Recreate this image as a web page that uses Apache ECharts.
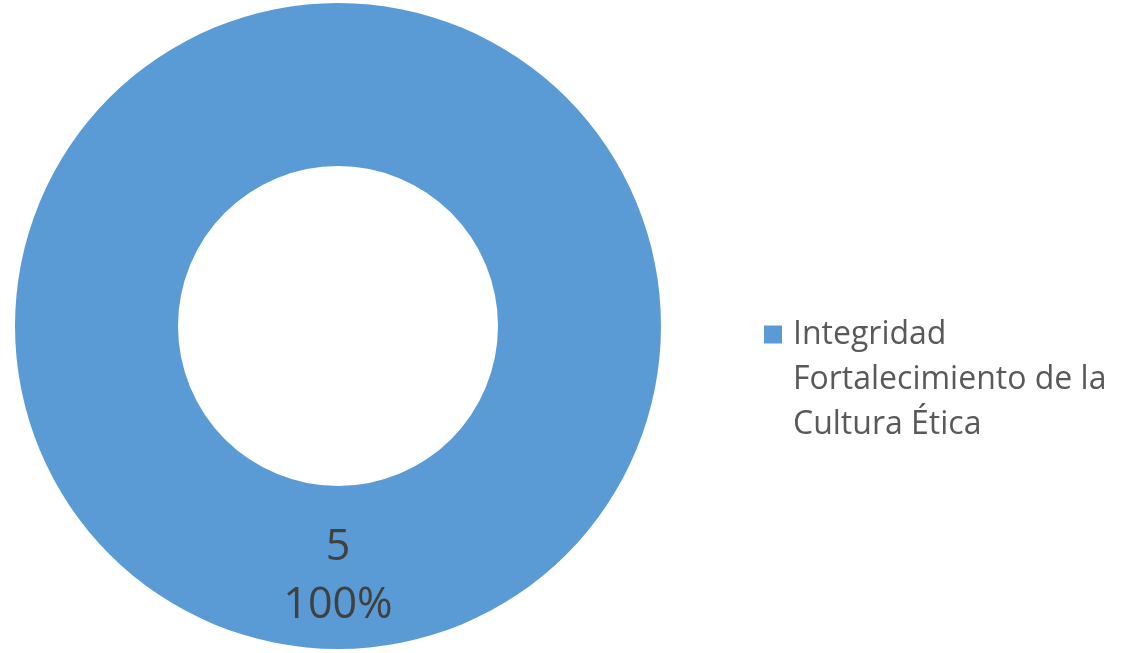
<!DOCTYPE html>
<html>
<head>
<meta charset="utf-8">
<script src="https://cdn.jsdelivr.net/npm/echarts@6/dist/echarts.min.js"></script>
<style>
html,body{margin:0;padding:0;background:#fff;}
#chart{width:1125px;height:653px;}
</style>
</head>
<body>
<div id="chart"></div>
<script>
const categories = ['Integridad Fortalecimiento de la Cultura Ética'];
const values = [5];
const legendLines = ['Integridad', 'Fortalecimiento de la', 'Cultura Ética'];
const colors = ['#5B9BD5'];

const chart = echarts.init(document.getElementById('chart'));
chart.setOption({
  animation: false,
  backgroundColor: '#ffffff',
  color: colors,
  legend: {
    orient: 'vertical',
    left: 764,
    top: 222,
    padding: 0,
    itemWidth: 18,
    itemHeight: 18,
    icon: 'rect',
    data: categories,
    formatter: function () { return ['', ''].concat(legendLines).join('\n'); },
    textStyle: {
      fontFamily: 'Open Sans',
      fontSize: 32,
      color: '#595959',
      lineHeight: 45,
      padding: [0, 0, 0, 6]
    }
  },
  series: [{
    type: 'pie',
    center: [338, 326],
    radius: [160, 323],
    startAngle: 90,
    clockwise: true,
    silent: true,
    data: categories.map((c, i) => ({ name: c, value: values[i] })),
    itemStyle: { borderWidth: 0 },
    label: {
      show: true,
      position: 'inside',
      formatter: '{c}\n{d}%',
      fontFamily: 'Open Sans',
      fontSize: 43,
      lineHeight: 58,
      color: '#404040',
      offset: [0, 6]
    },
    labelLine: { show: false }
  }]
});
</script>
</body>
</html>
